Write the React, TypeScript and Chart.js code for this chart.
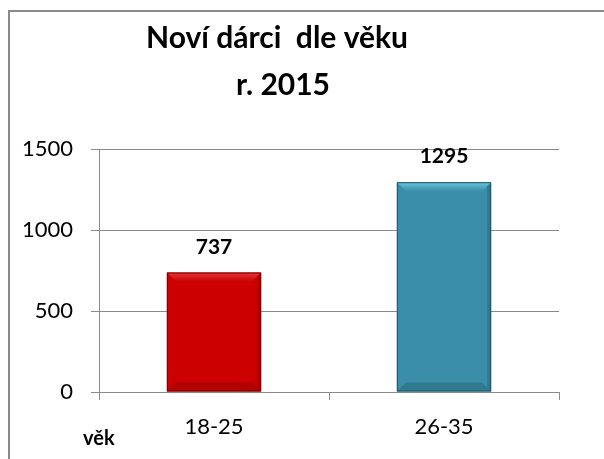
import React, { useEffect, useRef } from "react";
import { Chart, registerables } from "chart.js";

Chart.register(...registerables);

const categories = ["18-25", "26-35"];
const values = [737, 1295];
const barColors = ["#CC0000", "#3A8EA7"];
const barLight = ["#E23A3A", "#6CC6DE"];
const barDark = ["#7A0000", "#1E5566"];
const titleLines = ["Noví dárci  dle věku", "r. 2015"];
const axisTitleX = "věk";
const yMin = 0;
const yMax = 1500;
const yStep = 500;

const FONT = "Lato, 'Open Sans', sans-serif";

const decorPlugin = {
  id: "decor",
  beforeDraw(chart: any) {
    const ctx = chart.ctx;
    ctx.save();
    ctx.fillStyle = "#ffffff";
    ctx.fillRect(0, 0, chart.width, chart.height);
    ctx.strokeStyle = "#8a8a8a";
    ctx.lineWidth = 2;
    ctx.strokeRect(9, 11, chart.width + 20, chart.height + 20);
    ctx.restore();
  },
  afterDatasetsDraw(chart: any) {
    const ctx = chart.ctx;
    const meta = chart.getDatasetMeta(0);
    ctx.save();
    meta.data.forEach((bar: any, i: number) => {
      const left = bar.x - bar.width / 2;
      const right = bar.x + bar.width / 2;
      const top = bar.y;
      const bottom = bar.base;
      const b = 9;
      const gTop = ctx.createLinearGradient(0, top, 0, top + b);
      gTop.addColorStop(0, barLight[i]);
      gTop.addColorStop(1, barColors[i]);
      ctx.fillStyle = gTop;
      ctx.beginPath();
      ctx.moveTo(left, top);
      ctx.lineTo(right, top);
      ctx.lineTo(right - b, top + b);
      ctx.lineTo(left + b, top + b);
      ctx.closePath();
      ctx.fill();
      ctx.globalAlpha = 0.35;
      ctx.fillStyle = barDark[i];
      ctx.beginPath();
      ctx.moveTo(right, top);
      ctx.lineTo(right, bottom);
      ctx.lineTo(right - 4, bottom - 4);
      ctx.lineTo(right - 4, top + 4);
      ctx.closePath();
      ctx.fill();
      ctx.beginPath();
      ctx.moveTo(left, bottom);
      ctx.lineTo(right, bottom);
      ctx.lineTo(right - b, bottom - b);
      ctx.lineTo(left + b, bottom - b);
      ctx.closePath();
      ctx.fill();
      ctx.globalAlpha = 1;
      ctx.strokeStyle = barDark[i];
      ctx.lineWidth = 1;
      ctx.strokeRect(left + 0.5, top + 0.5, right - left - 1, bottom - top - 1);
      ctx.fillStyle = "#000000";
      ctx.font = "bold 21px " + FONT;
      ctx.textAlign = "center";
      ctx.textBaseline = "alphabetic";
      ctx.fillText(String(values[i]), bar.x, top - 19);
    });
    ctx.restore();
  },
  afterDraw(chart: any) {
    const ctx = chart.ctx;
    ctx.save();
    ctx.fillStyle = "#000000";
    ctx.textAlign = "center";
    ctx.textBaseline = "alphabetic";
    ctx.font = "bold 30px " + FONT;
    ctx.fillText(titleLines[0], 277, 48);
    ctx.fillText(titleLines[1], 283, 95);
    ctx.font = "bold 20px " + FONT;
    ctx.textAlign = "left";
    ctx.fillText(axisTitleX, 83, 445);
    ctx.restore();
  },
};

export default function App() {
  const ref = useRef<HTMLCanvasElement | null>(null);
  useEffect(() => {
    if (!ref.current) return;
    const chart = new Chart(ref.current, {
      type: "bar",
      data: {
        labels: categories,
        datasets: [
          {
            data: values,
            backgroundColor: barColors,
            borderWidth: 0,
            barPercentage: 0.41,
            categoryPercentage: 1,
          },
        ],
      },
      options: {
        animation: false,
        responsive: false,
        maintainAspectRatio: false,
        layout: { padding: { top: 149, right: 45, left: 0, bottom: 0 } },
        plugins: {
          legend: { display: false },
          title: { display: false },
          tooltip: { enabled: false },
        },
        scales: {
          x: {
            offset: true,
            afterFit: (s: any) => {
              s.height = 67;
            },
            grid: {
              offset: true,
              drawOnChartArea: false,
              drawTicks: true,
              tickLength: 8,
              color: "#8a8a8a",
            },
            border: { display: false },
            ticks: {
              color: "#000000",
              font: { family: FONT, size: 22 },
              padding: 14,
            },
          },
          y: {
            min: yMin,
            max: yMax,
            afterFit: (s: any) => {
              s.width = 99;
            },
            grid: {
              color: "#8a8a8a",
              tickLength: 8,
              lineWidth: 1,
            },
            border: { display: true, color: "#8a8a8a" },
            ticks: {
              stepSize: yStep,
              color: "#000000",
              font: { family: FONT, size: 22 },
              padding: 18,
              callback: (v: any) => String(v),
            },
          },
        },
      },
      plugins: [decorPlugin],
    } as any);
    return () => chart.destroy();
  }, []);
  return (
    <div
      style={{
        position: "fixed",
        left: 0,
        top: 0,
        width: 604,
        height: 459,
        background: "#fff",
      }}
    >
      <canvas ref={ref} width={604} height={459} style={{ width: 604, height: 459, display: "block" }} />
    </div>
  );
}
